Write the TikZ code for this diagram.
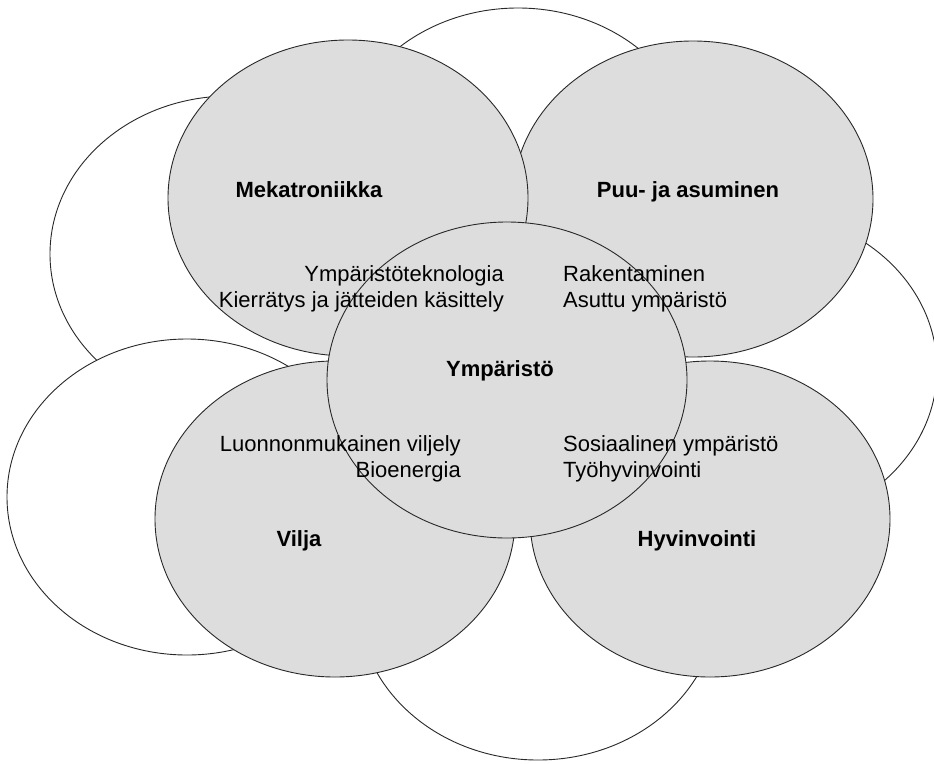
\documentclass[tikz,border=0pt]{standalone}
\usepackage{fontspec}
\setmainfont{Liberation Sans}
\usetikzlibrary{shapes.geometric}
\definecolor{cellgray}{RGB}{221,221,221}
\definecolor{edgecol}{RGB}{40,40,40}
\begin{document}
\begin{tikzpicture}[x=1pt,y=-1pt,
  ell/.style={ellipse,draw=edgecol,line width=0.9pt,inner sep=0pt,minimum width=360pt,minimum height=316pt},
  whiteell/.style={ell,fill=white},
  grayell/.style={ell,fill=cellgray},
  head/.style={font=\fontsize{22}{26}\selectfont\bfseries,inner sep=0pt,anchor=base},
  item/.style={font=\fontsize{22}{26}\selectfont,inner sep=0pt}
]
\useasboundingbox[fill=white] (0,0) rectangle (934,763);
% background (white) ellipses
\node[whiteell] (wtop) at (518,166) {};
\node[whiteell] (wul) at (230,254) {};
\node[whiteell] (wright) at (757,369) {};
\node[whiteell] (wbottom) at (538,602) {};
\node[whiteell] (wll) at (187,497) {};
% grey ellipses
\node[grayell] (puu) at (693,199) {};
\node[grayell] (meka) at (348,198) {};
\node[grayell] (vilja) at (335,519) {};
\node[grayell] (hyv) at (710,519) {};
\node[grayell] (ymp) at (507,380) {};
% headings
\node[head] (tmeka) at (309,197) {Mekatroniikka};
\node[head] (tpuu) at (688,197) {Puu- ja asuminen};
\node[head] (tymp) at (500,376) {Ympäristö};
\node[head] (tvilja) at (299,546) {Vilja};
\node[head] (thyv) at (697,546) {Hyvinvointi};
% items
\node[item,anchor=base east] (i1) at (504,281) {Ympäristöteknologia};
\node[item,anchor=base east] (i2) at (504,307) {Kierrätys ja jätteiden käsittely};
\node[item,anchor=base west] (i3) at (563,281) {Rakentaminen};
\node[item,anchor=base west] (i4) at (563,307) {Asuttu ympäristö};
\node[item,anchor=base east] (i5) at (461,451) {Luonnonmukainen viljely};
\node[item,anchor=base east] (i6) at (461,477) {Bioenergia};
\node[item,anchor=base west] (i7) at (563,451) {Sosiaalinen ympäristö};
\node[item,anchor=base west] (i8) at (563,477) {Työhyvinvointi};
\end{tikzpicture}
\end{document}
